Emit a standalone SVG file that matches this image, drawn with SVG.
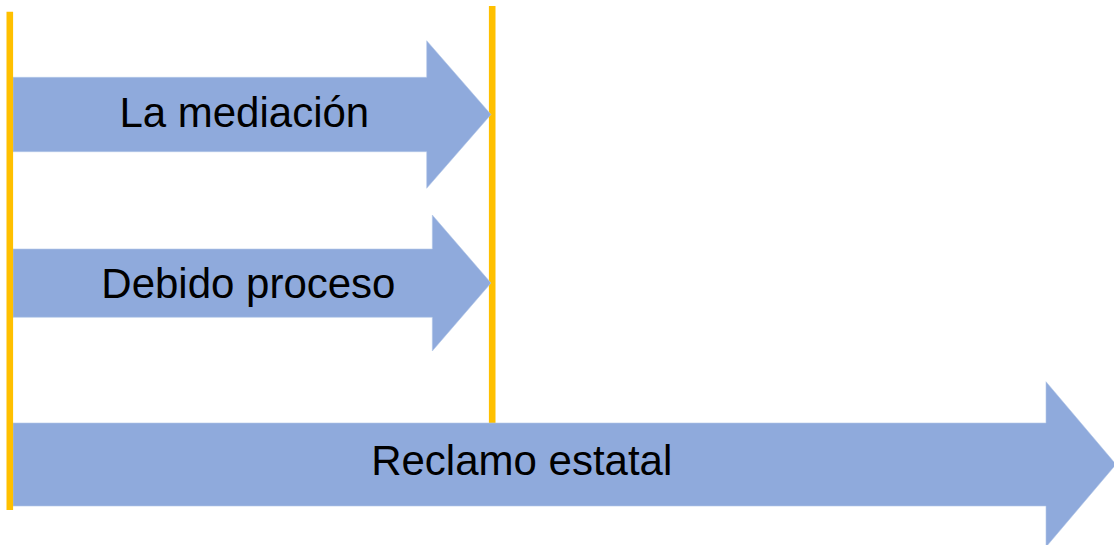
<svg xmlns="http://www.w3.org/2000/svg" width="1114" height="545" viewBox="0 0 1114 545">
<style>
.arrow{fill:#8FAADC;stroke:#B4C7E7;stroke-width:0.6}
.lbl{font-family:"Liberation Sans",Arial,sans-serif;font-size:42px;fill:#000;text-anchor:middle}
.bar{stroke:#FFC000;stroke-width:6.6;fill:none}
</style>
<rect width="1114" height="545" fill="#ffffff"/>
<g id="connectors">
<line class="bar" x1="492.2" y1="6" x2="492.2" y2="423"/>
</g>
<g id="node-mediacion">
<polygon class="arrow" points="13,77.3 426.7,77.3 426.7,40.7 491,114.5 426.7,188.3 426.7,151.7 13,151.7"/>
<text class="lbl" x="244.3" y="127.3">La mediación</text>
</g>
<g id="node-debido">
<polygon class="arrow" points="13,249 432.3,249 432.3,215 491,283 432.3,351 432.3,317.3 13,317.3"/>
<text class="lbl" x="248.4" y="297.5">Debido proceso</text>
</g>
<g id="node-reclamo">
<polygon class="arrow" points="13,423 1046,423 1046,381.7 1116,464.4 1046,547 1046,506 13,506"/>
<text class="lbl" x="521.7" y="475">Reclamo estatal</text>
</g>
<g id="timeline-start">
<line class="bar" x1="9.8" y1="11.7" x2="9.8" y2="510"/>
</g>
</svg>
